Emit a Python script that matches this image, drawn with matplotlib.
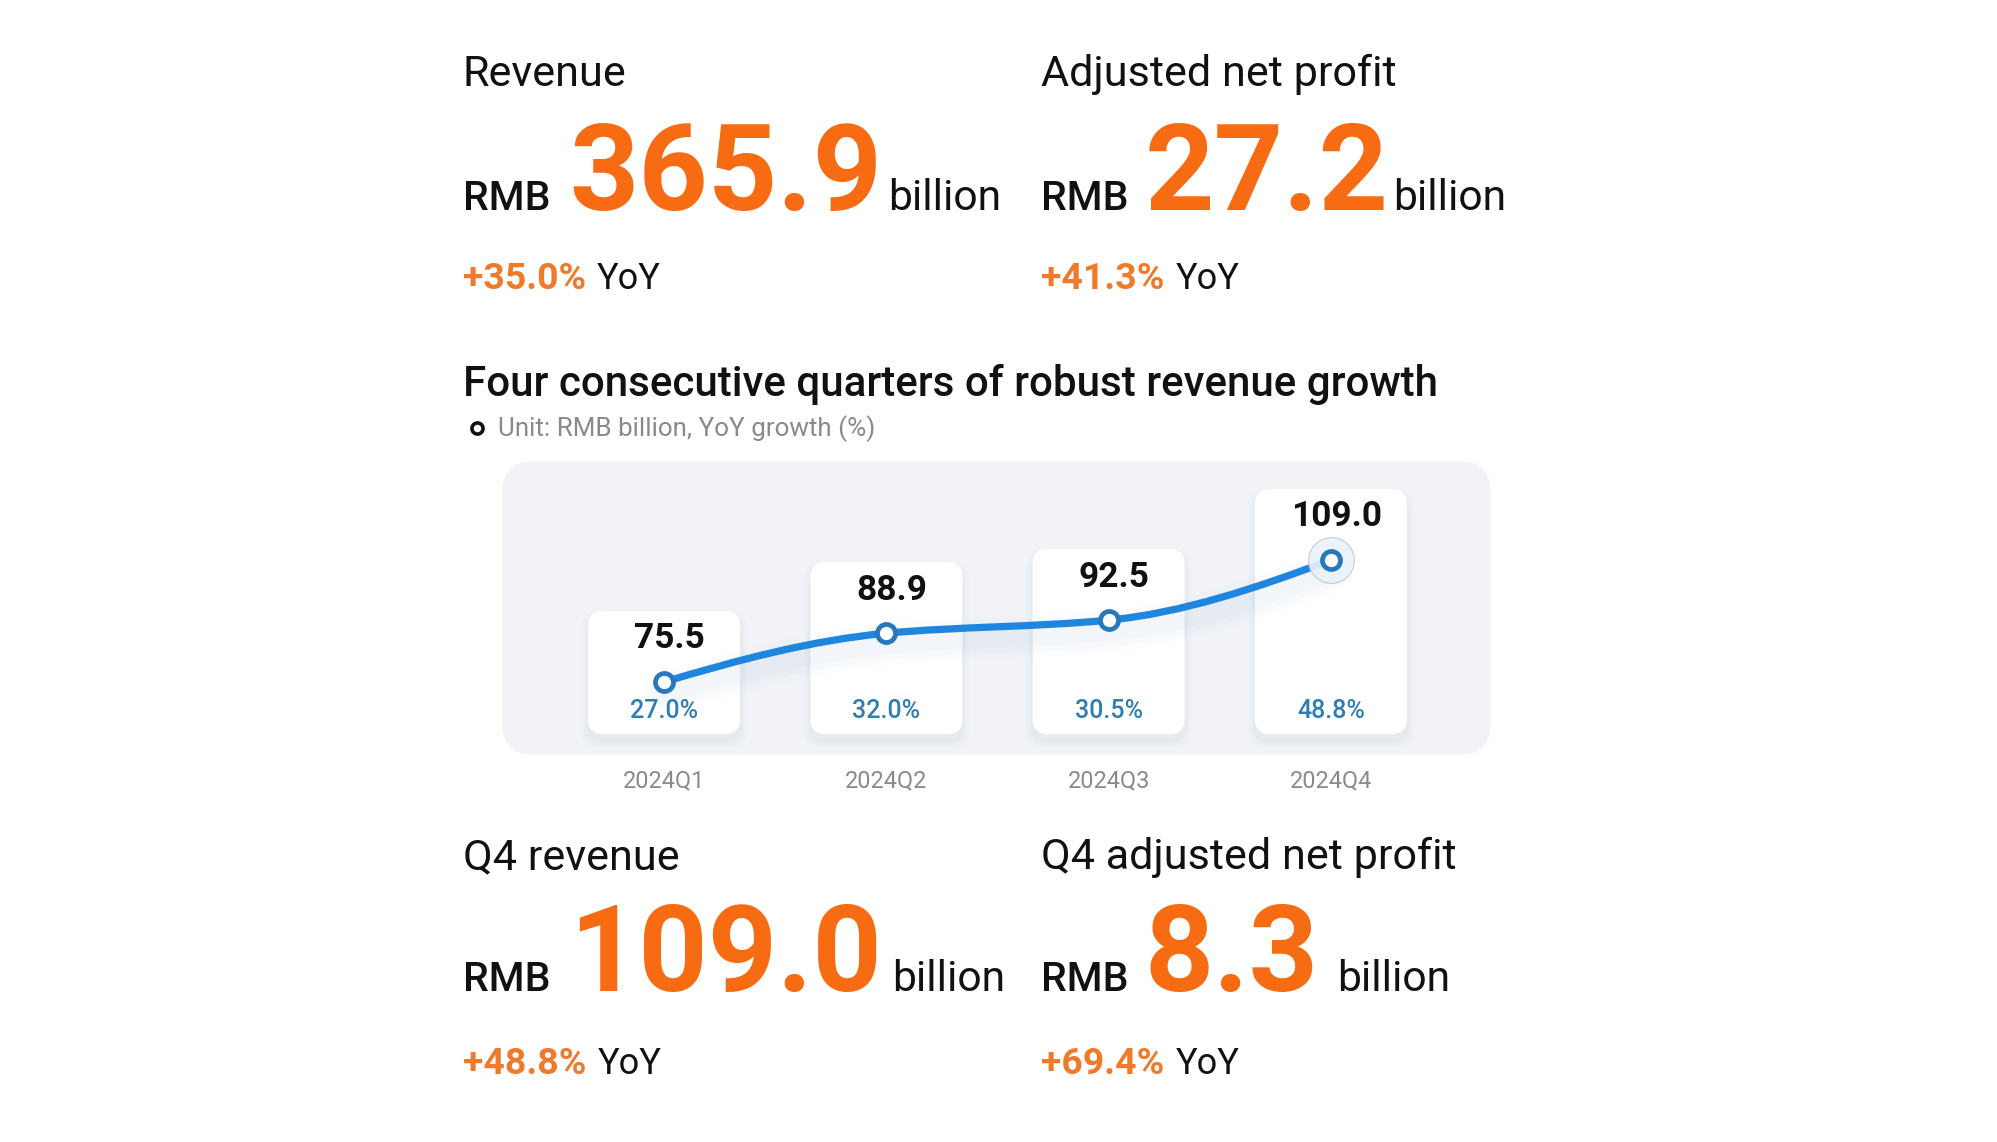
import matplotlib
matplotlib.use('Agg')
import matplotlib.pyplot as plt
from matplotlib.patches import FancyBboxPatch
from matplotlib.path import Path
from matplotlib.patches import PathPatch
import matplotlib.patheffects as pe
import numpy as np

plt.rcParams['font.family'] = ['Roboto', 'DejaVu Sans']

# ---------------- data ----------------
quarters = ['2024Q1', '2024Q2', '2024Q3', '2024Q4']
revenue = [75.5, 88.9, 92.5, 109.0]
yoy_growth = [27.0, 32.0, 30.5, 48.8]

kpi_labels = ['Revenue', 'Adjusted net profit', 'Q4 revenue', 'Q4 adjusted net profit']
kpi_values = ['365.9', '27.2', '109.0', '8.3']
kpi_growth = ['+35.0%', '+41.3%', '+48.8%', '+69.4%']
currency = 'RMB'
unit_word = 'billion'
yoy_word = 'YoY'
chart_title = 'Four consecutive quarters of robust revenue growth'
unit_note = 'Unit: RMB billion, YoY growth (%)'

# ---------------- styles ----------------
W, H = 1997, 1142
ORANGE = '#F76B12'
ORANGE2 = '#EF7A2C'
LINE_BLUE = '#1F86E0'
MARK_BLUE = '#2A78BC'
PCT_BLUE = '#2F7DB2'
GREY = '#8A8A8A'
PANEL = '#F1F3F6'

fig = plt.figure(figsize=(W / 100, H / 100), dpi=100)
fig.patch.set_facecolor('white')
bg = fig.add_axes([0, 0, 1, 1])
bg.set_xlim(0, W)
bg.set_ylim(H, 0)
bg.axis('off')
renderer = fig.canvas.get_renderer()


def width_px(s, size, **kw):
    t = bg.text(0, 0, s, fontsize=size, **kw)
    w = t.get_window_extent(renderer).width
    t.remove()
    return w


def fit(s, target, **kw):
    return 20 * target / width_px(s, 20, **kw)


# font sizes fitted to the reference widths
fs_label = fit('Adjusted net profit', 354)
fs_rmb = fit('RMB', 87, weight='medium')
fs_big = fit('365.9', 313, weight='bold')
fs_bil = fit('billion', 113)
fs_gr = fit('+35.0%', 123, weight='bold')
fs_yoy = fit('YoY', 64)
fs_title = fit(chart_title, 978, weight='medium')
fs_unit = fit(unit_note, 376)
fs_val = fit('109.0', 91, weight='bold')
fs_pct = fit('48.8%', 68, weight='medium')
fs_x = fit('2024Q4', 82)

# ---------------- KPI blocks ----------------
col_x = [463, 1041, 463, 1041]
label_base = [86, 86, 869, 869]
num_base = [210, 210, 991, 991]
gr_base = [289, 289, 1074, 1074]
num_x = [569, 1145, 569, 1145]
bil_x = [888, 1393, 892, 1337]

for i in range(4):
    bg.text(col_x[i], label_base[i], kpi_labels[i], fontsize=fs_label,
            color='#111111', va='baseline', ha='left')
    bg.text(col_x[i], num_base[i], currency, fontsize=fs_rmb,
            weight='medium', color='#111111', va='baseline', ha='left')
    t = bg.text(num_x[i], num_base[i], kpi_values[i], fontsize=fs_big,
                weight='bold', color=ORANGE, va='baseline', ha='left')
    wnum = t.get_window_extent(renderer).width
    bg.text(max(bil_x[i], num_x[i] + wnum + 3), num_base[i], unit_word,
            fontsize=fs_bil, color='#111111', va='baseline', ha='left')
    g = bg.text(col_x[i], gr_base[i], kpi_growth[i], fontsize=fs_gr,
                weight='bold', color=ORANGE2, va='baseline', ha='left')
    wg = g.get_window_extent(renderer).width
    bg.text(col_x[i] + wg + 11, gr_base[i], yoy_word, fontsize=fs_yoy,
            color='#111111', va='baseline', ha='left')

# ---------------- chart title ----------------
bg.text(463, 396, chart_title, fontsize=fs_title, weight='medium',
        color='#111111', va='baseline', ha='left')
bg.plot([477], [428], 'o', ms=8, mfc='white', mec='#111111', mew=2.6)
bg.text(498, 436, unit_note, fontsize=fs_unit, color=GREY,
        va='baseline', ha='left')

# grey panel
PX0, PX1, PY0, PY1 = 502, 1491, 461, 755
bg.add_patch(FancyBboxPatch((PX0, PY0), PX1 - PX0, PY1 - PY0,
                            boxstyle='round,pad=0,rounding_size=32',
                            fc=PANEL, ec='none', zorder=1))

# ---------------- chart axes ----------------
ax = fig.add_axes([PX0 / W, 1 - PY1 / H, (PX1 - PX0) / W, (PY1 - PY0) / H])
ax.set_xlim(-0.729, 3.72)
ax.set_ylim(55.46, 136.2)
ax.axis('off')
ax.patch.set_visible(False)

x = np.arange(len(revenue))
card_bottom = 61.2
card_w = 0.684
card_pad = 19.5
asp = 61.0

for i, v in enumerate(revenue):
    top = v + card_pad
    for k, (grow, a) in enumerate([(0.03, 0.04), (0.018, 0.06), (0.008, 0.08)]):
        ax.add_patch(FancyBboxPatch((i - card_w / 2 - grow, card_bottom - 2.0 - grow * asp),
                                    card_w + 2 * grow, top - card_bottom + 2 * grow * asp,
                                    boxstyle='round,pad=0,rounding_size=0.075',
                                    mutation_aspect=asp, fc='#b9c2cf', ec='none',
                                    alpha=a, zorder=2))
    ax.add_patch(FancyBboxPatch((i - card_w / 2, card_bottom), card_w, top - card_bottom,
                                boxstyle='round,pad=0,rounding_size=0.068',
                                mutation_aspect=asp, fc='white', ec='none', zorder=3))

# smooth monotone curve through the data points (cubic Hermite -> Bezier)
xs = np.asarray(x, float)
ys = np.asarray(revenue, float)
d = np.diff(ys) / np.diff(xs)
m = np.zeros_like(ys)
for i in range(1, len(ys) - 1):
    m[i] = 2 * d[i - 1] * d[i] / (d[i - 1] + d[i]) if d[i - 1] * d[i] > 0 else 0
m[0] = (3 * d[0] - d[1]) / 2
m[-1] = (3 * d[-1] - d[-2]) / 2
verts = [(xs[0], ys[0])]
codes = [Path.MOVETO]
for i in range(len(xs) - 1):
    h = xs[i + 1] - xs[i]
    verts += [(xs[i] + h / 3, ys[i] + m[i] * h / 3),
              (xs[i + 1] - h / 3, ys[i + 1] - m[i + 1] * h / 3),
              (xs[i + 1], ys[i + 1])]
    codes += [Path.CURVE4] * 3
path = Path(verts, codes)

glow = [pe.Stroke(linewidth=lw, foreground='#5a8fc8', alpha=al, offset=(0, -8))
        for lw, al in [(30, 0.018), (22, 0.022), (14, 0.03)]]
ax.add_patch(PathPatch(path, fill=False, ec=LINE_BLUE, lw=5.2, capstyle='round',
                       zorder=5, path_effects=glow + [pe.Normal()]))

# halo on last point
ax.plot(x[-1], revenue[-1], 'o', ms=33, mfc='#eaf2fa', mec='#c3ccd6', mew=0.9,
        alpha=0.9, zorder=6)
ax.plot(x, revenue, 'o', ms=13, mfc='white', mec=MARK_BLUE, mew=3.4, zorder=7)

for i, v in enumerate(revenue):
    ax.annotate(f'{v:.1f}', (i, v), xytext=(4, 31), textcoords='offset points',
                ha='center', va='center', fontsize=fs_val, weight='bold',
                color='#111111', zorder=8)
    ax.text(i, 67.6, f'{yoy_growth[i]:.1f}%', ha='center', va='center',
            fontsize=fs_pct, weight='medium', color=PCT_BLUE, zorder=8)
    ax.text(i, 48.4, quarters[i], ha='center', va='center', fontsize=fs_x,
            color=GREY, clip_on=False, zorder=8)

fig.savefig('out.png', dpi=100, facecolor='white')
